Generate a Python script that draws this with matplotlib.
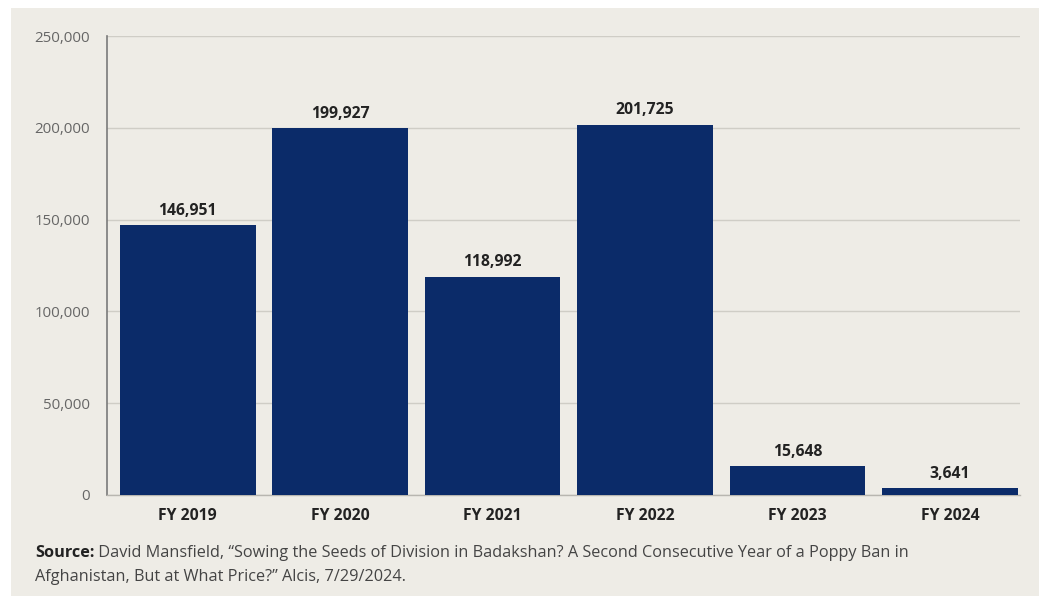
import matplotlib.pyplot as plt
from matplotlib.patches import Rectangle
from matplotlib.ticker import FuncFormatter

years = ["FY 2019", "FY 2020", "FY 2021", "FY 2022", "FY 2023", "FY 2024"]
values = [146951, 199927, 118992, 201725, 15648, 3641]
y_ticks = [0, 50000, 100000, 150000, 200000, 250000]

bg = "#eeece6"
navy = "#0b2b69"

plt.rcParams["font.family"] = ["Open Sans", "DejaVu Sans"]

W, H = 1039, 596
fig = plt.figure(figsize=(W / 100, H / 100), dpi=100, facecolor=bg)
# white strips along top and left edge
fig.patches.append(Rectangle((0, 1 - 8 / H), 1, 8 / H, transform=fig.transFigure,
                             facecolor="white", edgecolor="none"))
fig.patches.append(Rectangle((0, 0), 11 / W, 1, transform=fig.transFigure,
                             facecolor="white", edgecolor="none"))

ax = fig.add_axes([107 / W, 1 - 495 / H, (1020 - 107) / W, (495 - 36) / H])
ax.set_facecolor(bg)

x = range(len(years))
ax.bar(x, values, width=0.89, color=navy, zorder=3)

for xi, v in zip(x, values):
    ax.text(xi, v + 3500, f"{v:,}", ha="center", va="bottom",
            fontsize=11.3, fontweight="bold", color="#222222")

ax.set_xlim(-0.53, 5.46)
ax.set_ylim(0, 250000)
ax.set_yticks(y_ticks)
ax.yaxis.set_major_formatter(FuncFormatter(lambda v, p: f"{int(v):,}"))
ax.set_xticks(list(x))
ax.set_xticklabels(years, fontsize=11.3, fontweight="bold", color="#222222")
ax.tick_params(axis="y", labelsize=10.8, labelcolor="#666666", length=0, pad=12)
ax.tick_params(axis="x", length=0, pad=9)

ax.grid(axis="y", color="#cfcdc6", linewidth=1, zorder=0)
for s in ["top", "right"]:
    ax.spines[s].set_visible(False)
ax.spines["left"].set_color("#7a7a7a")
ax.spines["left"].set_linewidth(1.2)
ax.spines["bottom"].set_color("#b8b6b0")
ax.spines["bottom"].set_linewidth(1)

src = fig.text(35 / W, 1 - 553 / H, "Source:", fontsize=11.7, fontweight="bold",
               color="#222222", va="center")
ax.annotate(" David Mansfield, \u201cSowing the Seeds of Division in Badakshan? A Second Consecutive Year of a Poppy Ban in",
            xy=(1, 0.5), xycoords=src, va="center", ha="left",
            fontsize=11.7, color="#444444", annotation_clip=False)
fig.text(35 / W, 1 - 577 / H,
         "Afghanistan, But at What Price?\u201d Alcis, 7/29/2024.",
         fontsize=11.7, color="#444444", va="center")

fig.savefig("out.png", dpi=100, facecolor=fig.get_facecolor())
